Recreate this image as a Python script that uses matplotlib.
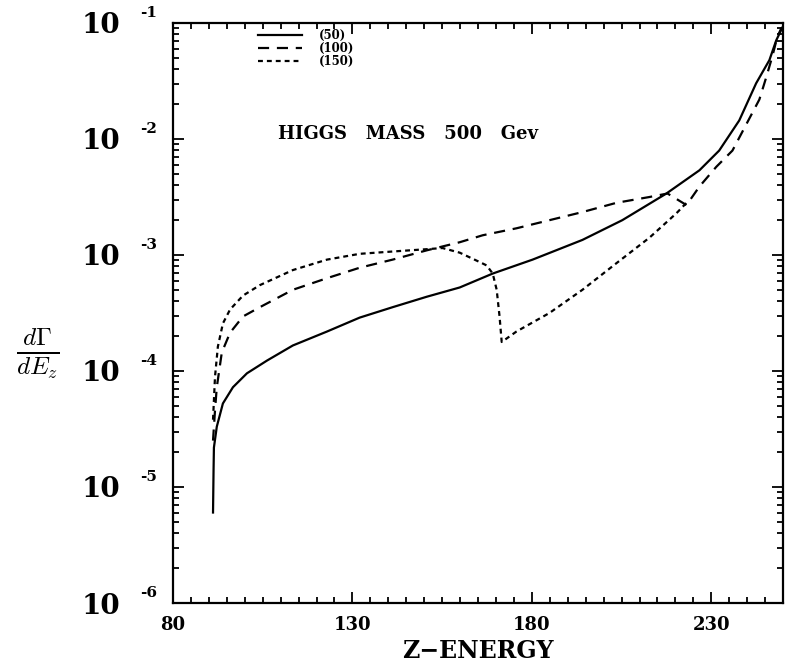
import matplotlib
matplotlib.use("Agg")
import matplotlib.pyplot as plt
import numpy as np
from matplotlib.ticker import FixedLocator, MultipleLocator, LogLocator, NullFormatter

# Z energy (GeV) and log10(dGamma/dE_z)
e_50 = [91.15, 91.3, 91.4, 92.2, 93.9, 96.7, 100.6, 106.2, 113.4, 122.9, 132.0,
        141.2, 150.7, 159.9, 169.1, 180.2, 194.1, 205.2, 217.5, 226.7, 232.2,
        237.8, 242.5, 246.2, 248.1, 249.8]
lg_50 = [-5.22, -4.85, -4.66, -4.48, -4.28, -4.14, -4.02, -3.91, -3.78, -3.66, -3.54,
         -3.45, -3.36, -3.28, -3.16, -3.04, -2.87, -2.70, -2.47, -2.27, -2.10,
         -1.84, -1.52, -1.32, -1.15, -1.04]

e_100 = [91.15, 91.7, 92.2, 93.6, 95.9, 99.5, 104.2, 113.4, 122.9, 132.0, 141.2,
         150.7, 159.9, 166.3, 175.7, 184.9, 194.1, 203.6, 212.8, 217.8, 223.1,
         226.7, 231.4, 235.9, 243.4, 245.3, 247.0, 248.4, 249.6]
lg_100 = [-4.60, -4.34, -4.14, -3.84, -3.67, -3.53, -3.45, -3.30, -3.20, -3.11, -3.04,
          -2.96, -2.89, -2.83, -2.77, -2.70, -2.63, -2.55, -2.50, -2.47, -2.57,
          -2.41, -2.24, -2.10, -1.66, -1.47, -1.29, -1.12, -1.04]

e_150 = [91.15, 91.7, 92.5, 93.9, 95.9, 99.5, 104.2, 113.4, 122.9, 132.0, 141.2,
         150.7, 155.1, 159.9, 165.4, 167.4, 169.1, 170.2, 171.0, 171.6, 175.7,
         184.9, 194.1, 203.6, 212.8, 220.3, 223.1]
lg_150 = [-4.42, -4.05, -3.79, -3.59, -3.47, -3.35, -3.26, -3.13, -3.04, -2.99, -2.97,
          -2.95, -2.94, -2.98, -3.06, -3.09, -3.16, -3.30, -3.53, -3.75, -3.66,
          -3.50, -3.30, -3.07, -2.85, -2.64, -2.55]

labels = ["(50)", "(100)", "(150)"]
xticks = [80, 130, 180, 230]
ydecades = [-6, -5, -4, -3, -2, -1]

serif = "DejaVu Serif"

fig = plt.figure(figsize=(7.85, 6.7), dpi=100)
ax = fig.add_axes([0.2204, 0.1, 0.7771, 0.8657])

ax.plot(e_50, 10.0 ** np.array(lg_50), color="black", lw=1.6, label=labels[0])
ax.plot(e_100, 10.0 ** np.array(lg_100), color="black", lw=1.6,
        dashes=(5, 3.5), label=labels[1])
ax.plot(e_150, 10.0 ** np.array(lg_150), color="black", lw=1.6,
        dashes=(2.2, 1.8), label=labels[2])

ax.set_yscale("log")
ax.set_xlim(80, 250)
ax.set_ylim(1e-6, 1e-1)

ax.xaxis.set_major_locator(FixedLocator(xticks))
ax.xaxis.set_minor_locator(MultipleLocator(5))
ax.yaxis.set_major_locator(FixedLocator([10.0 ** d for d in ydecades]))
ax.yaxis.set_minor_locator(LogLocator(base=10, subs=np.arange(2, 10)))
ax.yaxis.set_minor_formatter(NullFormatter())
ax.set_yticklabels(["10"] * len(ydecades), fontsize=20,
                   family=serif, fontweight="bold")
ax.set_xticklabels([str(t) for t in xticks], fontsize=13,
                   family=serif, fontweight="bold")

# small exponents sitting up to the right of each "10"
ytrans = ax.get_yaxis_transform()
for d in ydecades:
    ax.annotate("-%d" % abs(d), xy=(-0.054, 10.0 ** d), xycoords=ytrans,
                xytext=(0, 2), textcoords="offset points", ha="left", va="bottom",
                fontsize=11, family=serif, fontweight="bold", annotation_clip=False)

ax.tick_params(which="both", direction="in", top=True, right=True, width=1.3)
ax.tick_params(which="major", length=8)
ax.tick_params(which="minor", length=4.5)
ax.tick_params(axis="y", pad=38)
ax.tick_params(axis="x", pad=9)
for s in ax.spines.values():
    s.set_linewidth(1.6)

ax.set_xlabel("Z\u2212ENERGY", fontsize=17, family=serif, fontweight="bold",
              labelpad=4)
fig.text(0.048, 0.472, r"$\frac{d\Gamma}{dE_z}$", math_fontfamily="cm",
         fontsize=26, ha="center", va="center")

ax.legend(loc="upper left", bbox_to_anchor=(0.14, 0.99), frameon=False,
          borderpad=0, borderaxespad=0, labelspacing=0.0, handlelength=3.7,
          handletextpad=1.4, prop={"family": serif, "weight": "bold", "size": 8.5})
ax.text(0.172, 0.809, "HIGGS   MASS   500   Gev", transform=ax.transAxes,
        fontsize=13, family=serif, fontweight="bold", va="center")

fig.savefig("out.png", dpi=100)
